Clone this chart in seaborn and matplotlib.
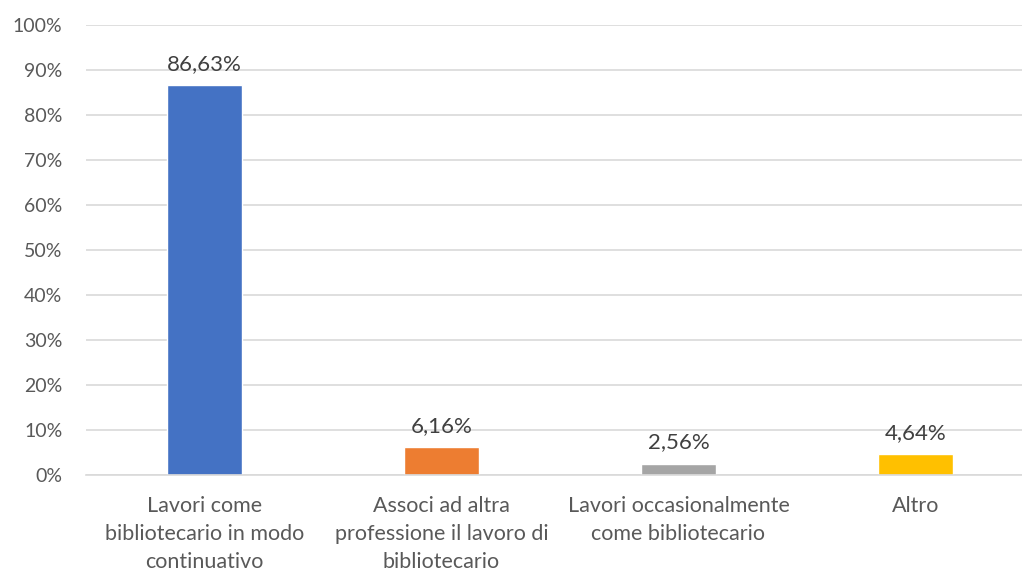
import matplotlib
matplotlib.use("Agg")
import matplotlib.pyplot as plt
import seaborn as sns
import pandas as pd
from matplotlib.ticker import FuncFormatter, MultipleLocator

categories = [
    "Lavori come\nbibliotecario in modo\ncontinuativo",
    "Associ ad altra\nprofessione il lavoro di\nbibliotecario",
    "Lavori occasionalmente\ncome bibliotecario",
    "Altro",
]
values = [86.63, 6.16, 2.56, 4.64]
colors = ["#4472C4", "#ED7D31", "#A5A5A5", "#FFC000"]

sns.set_theme(style="white")
plt.rcParams["font.family"] = ["Lato", "DejaVu Sans"]

df = pd.DataFrame({"categoria": categories, "valore": values})

fig = plt.figure(figsize=(10.22, 5.73), dpi=100)
ax = fig.add_axes([0.0841, 0.171, 0.9276, 0.785])

sns.barplot(data=df, x="categoria", y="valore", hue="categoria",
            palette=colors, width=0.316, legend=False, ax=ax, saturation=1)

ax.set_xlim(-0.5, 3.5)
ax.set_ylim(0, 100)
ax.yaxis.set_major_locator(MultipleLocator(10))
ax.yaxis.set_major_formatter(FuncFormatter(lambda v, p: f"{v:.0f}%"))
ax.grid(axis="y", color="#D9D9D9", linewidth=1.2)
ax.set_axisbelow(True)
for s in ["top", "right", "left"]:
    ax.spines[s].set_visible(False)
ax.spines["bottom"].set_color("#D9D9D9")
ax.spines["bottom"].set_linewidth(1.2)
ax.set_xlabel("")
ax.set_ylabel("")
ax.tick_params(axis="both", length=0, colors="#595959")
ax.tick_params(axis="y", pad=17, labelsize=14)
ax.tick_params(axis="x", pad=15, labelsize=15.5)
for lbl in ax.get_xticklabels():
    lbl.set_linespacing(1.5)

for i, v in enumerate(values):
    ax.text(i, v + 3.4, f"{v:.2f}%".replace(".", ","), ha="center", va="baseline",
            fontsize=16, color="#404040")

fig.savefig("out.png", dpi=100)
